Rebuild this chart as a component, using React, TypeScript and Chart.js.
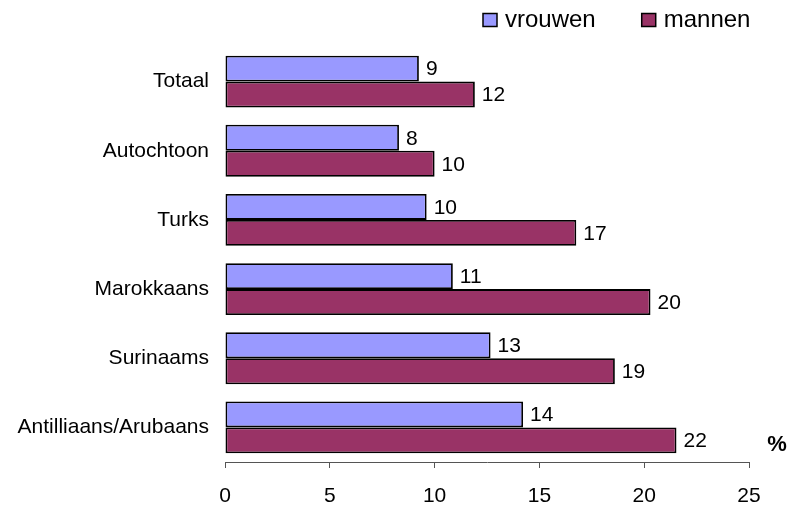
import React, { useEffect, useRef } from "react";
import { Chart, registerables } from "chart.js";

Chart.register(...registerables);

const categories = [
  "Totaal",
  "Autochtoon",
  "Turks",
  "Marokkaans",
  "Surinaams",
  "Antilliaans/Arubaans",
];
const vrouwen = [9.25, 8.3, 9.62, 10.87, 12.67, 14.22];
const mannen = [11.92, 10.0, 16.76, 20.3, 18.6, 21.54];
const seriesNames = ["vrouwen", "mannen"];
const seriesColors = ["#9999FF", "#993366"];
const xTicks = [0, 5, 10, 15, 20, 25];
const unitLabel = "%";

const FONT = "'Liberation Sans', Arial, Helvetica, sans-serif";

export default function App() {
  const ref = useRef<HTMLCanvasElement | null>(null);

  useEffect(() => {
    if (!ref.current) return;

    const valueLabels = {
      id: "valueLabels",
      afterDatasetsDraw(chart: any) {
        const ctx = chart.ctx;
        ctx.save();
        ctx.font = `21px ${FONT}`;
        ctx.fillStyle = "#000";
        ctx.textAlign = "left";
        ctx.textBaseline = "middle";
        chart.data.datasets.forEach((ds: any, di: number) => {
          const meta = chart.getDatasetMeta(di);
          meta.data.forEach((el: any, i: number) => {
            ctx.fillText(String(Math.round(ds.data[i])), el.x + 7, el.y + 1);
          });
        });
        ctx.restore();
      },
    };

    const extras = {
      id: "extras",
      afterDraw(chart: any) {
        const ctx = chart.ctx;
        const area = chart.chartArea;
        ctx.save();
        ctx.font = `bold 22px ${FONT}`;
        ctx.fillStyle = "#000";
        ctx.textAlign = "center";
        ctx.textBaseline = "middle";
        ctx.fillText(unitLabel, area.right + 28, area.bottom - 17);
        ctx.font = `24px ${FONT}`;
        ctx.textAlign = "left";
        let x = 483;
        const boxW = 14;
        const boxH = 13;
        const cy = 20;
        seriesNames.forEach((name, i) => {
          ctx.fillStyle = seriesColors[i];
          ctx.fillRect(x, cy - boxH / 2, boxW, boxH);
          ctx.strokeStyle = "#000";
          ctx.lineWidth = 1.5;
          ctx.strokeRect(x, cy - boxH / 2, boxW, boxH);
          ctx.fillStyle = "#000";
          const tx = x + boxW + 8;
          ctx.fillText(name, tx, cy);
          x = tx + ctx.measureText(name).width + 46;
        });
        ctx.restore();
      },
    };

    const chart = new Chart(ref.current, {
      type: "bar",
      data: {
        labels: categories,
        datasets: [
          {
            label: seriesNames[0],
            data: vrouwen,
            backgroundColor: seriesColors[0],
            borderColor: "#000",
            borderWidth: 1.8,
            borderSkipped: false,
            categoryPercentage: 0.75,
            barPercentage: 1,
          },
          {
            label: seriesNames[1],
            data: mannen,
            backgroundColor: seriesColors[1],
            borderColor: "#000",
            borderWidth: 1.8,
            borderSkipped: false,
            categoryPercentage: 0.75,
            barPercentage: 1,
          },
        ],
      },
      options: {
        indexAxis: "y",
        responsive: true,
        maintainAspectRatio: false,
        animation: false,
        layout: { padding: { top: 47, right: 39, left: 0, bottom: 0 } },
        plugins: {
          legend: { display: false },
          tooltip: { enabled: false },
        },
        scales: {
          x: {
            min: 0,
            max: 25,
            afterBuildTicks: (s: any) => {
              s.ticks = xTicks.map((v) => ({ value: v }));
            },
            afterFit: (s: any) => {
              s.height = 45;
            },
            ticks: {
              font: { size: 21, family: FONT },
              color: "#000",
              padding: 16,
            },
            grid: {
              drawOnChartArea: false,
              drawTicks: true,
              tickLength: 6,
              color: "#555",
            },
            border: { display: true, color: "#555", width: 1 },
          },
          y: {
            afterFit: (s: any) => {
              s.width = 225;
            },
            ticks: {
              font: { size: 21, family: FONT },
              color: "#000",
              padding: 16,
            },
            grid: { display: false, drawTicks: false },
            border: { display: false },
          },
        },
      },
      plugins: [valueLabels, extras],
    });

    return () => chart.destroy();
  }, []);

  return (
    <div
      style={{
        position: "fixed",
        left: 0,
        top: 0,
        width: 788,
        height: 507,
        background: "#fff",
      }}
    >
      <canvas ref={ref} />
    </div>
  );
}
